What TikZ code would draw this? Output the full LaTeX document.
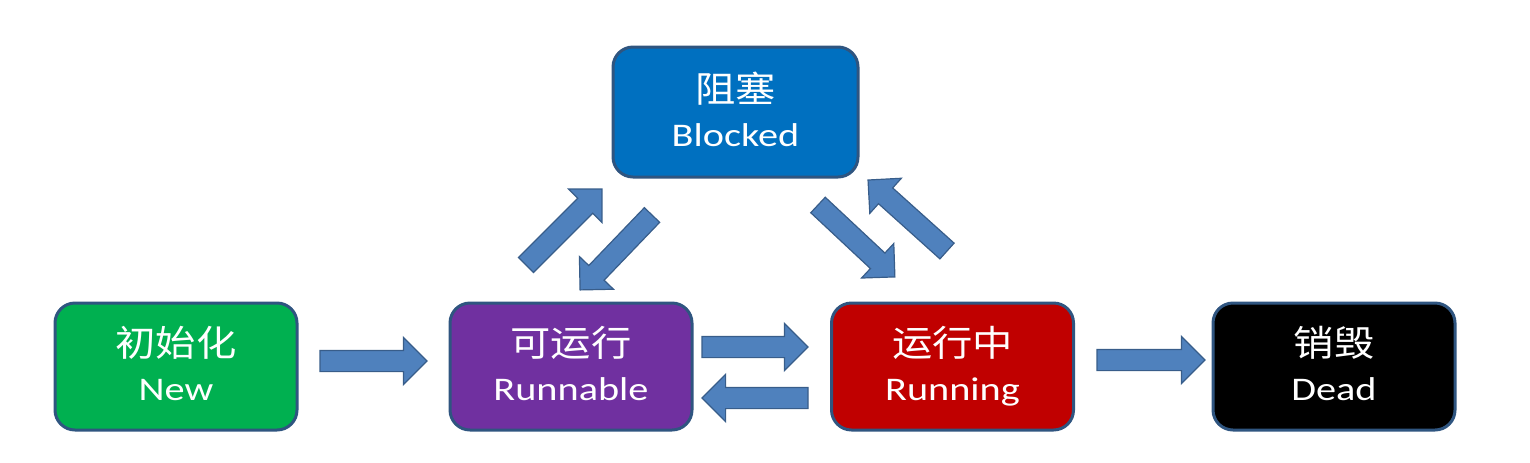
\documentclass[tikz,border=0pt]{standalone}
\usepackage{fontspec}
\setmainfont{Carlito}[FakeStretch=1.22]
\newfontfamily\cjk{Noto Sans CJK SC}[FakeStretch=1.12]
\usetikzlibrary{shapes.arrows,calc}
\definecolor{boxline}{HTML}{2F5580}
\definecolor{arrfill}{HTML}{4F81BD}
\definecolor{arrline}{HTML}{385D8A}
\definecolor{cnew}{HTML}{00B050}
\definecolor{crunnable}{HTML}{7030A0}
\definecolor{crunning}{HTML}{C00000}
\definecolor{cblocked}{HTML}{0070C0}
\definecolor{cdead}{HTML}{000000}
\newcommand\barr[2]{\path let \p1=($(#2)-(#1)$), \n1={veclen(\x1,\y1)} in (#1) -- (#2) node[barrow, minimum height=\n1]{};}
\newcommand\twolines[2]{{\fontsize{18}{22}\selectfont\cjk #1\vphantom{阻}}\\{\fontsize{16.5}{22}\selectfont #2\vphantom{g}}}
\begin{document}
\begin{tikzpicture}[x=0.5pt,y=-0.5pt,
  state/.style={draw=boxline, line width=1.5pt, rounded corners=10pt,
    minimum width=121pt, minimum height=63.5pt, text=white, align=center,
    font=\fontsize{16.5}{22}\selectfont, inner sep=0pt},
  barrow/.style={single arrow, draw=arrline, fill=arrfill, line width=0.6pt,
    inner xsep=0pt, inner ysep=5pt, outer sep=0pt, text height=0pt, text depth=0pt,
    single arrow head extend=6.5pt, single arrow tip angle=90,
    sloped, allow upside down, pos=0, anchor=tail}]
\useasboundingbox (0,0) rectangle (1530,462);
\node[state, fill=cnew] (new) at (176,366.5) {\twolines{初始化}{New}};
\node[state, fill=crunnable] (runnable) at (571,366.5) {\twolines{可运行}{Runnable}};
\node[state, fill=crunning] (running) at (952.5,366.5) {\twolines{运行中}{Running}};
\node[state, fill=cdead] (dead) at (1334,366.5) {\twolines{销毁}{Dead}};
\node[state, fill=cblocked, minimum width=122.5pt, minimum height=65pt] (blocked) at (735.5,112) {\twolines{阻塞}{Blocked}};
% arrow end points
\coordinate (a1s) at (320,361); \coordinate (a1e) at (427,361);
\coordinate (a2s) at (702,347); \coordinate (a2e) at (808,347);
\coordinate (a3s) at (808,398); \coordinate (a3e) at (702,398);
\coordinate (a4s) at (1097,360); \coordinate (a4e) at (1205,360);
\coordinate (d1s) at (526,265); \coordinate (d1e) at (602,189);
\coordinate (d2s) at (652,215); \coordinate (d2e) at (580,290);
\coordinate (d3s) at (818,205); \coordinate (d3e) at (895,277);
\coordinate (d4s) at (947,251); \coordinate (d4e) at (868,180);
\barr{a1s}{a1e}
\barr{a2s}{a2e}
\barr{a3s}{a3e}
\barr{a4s}{a4e}
\barr{d1s}{d1e}
\barr{d2s}{d2e}
\barr{d3s}{d3e}
\barr{d4s}{d4e}
\end{tikzpicture}
\end{document}
